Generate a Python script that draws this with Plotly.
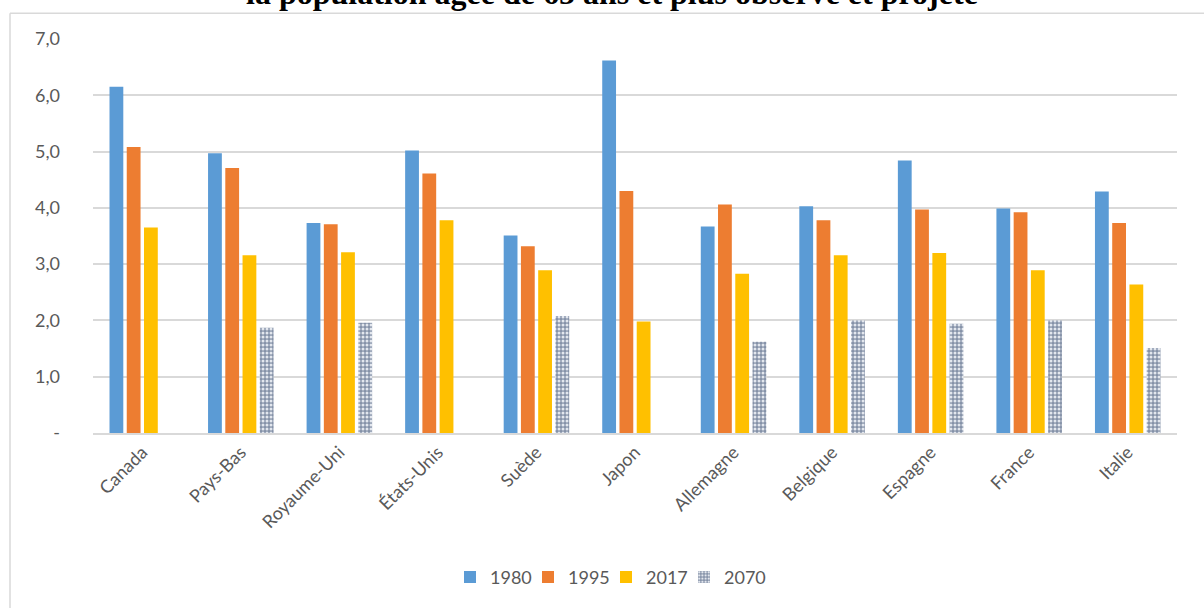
import plotly.graph_objects as go

pays = ["Canada", "Pays-Bas", "Royaume-Uni", "États-Unis", "Suède", "Japon",
        "Allemagne", "Belgique", "Espagne", "France", "Italie"]
v1980 = [6.15, 4.97, 3.73, 5.02, 3.51, 6.62, 3.67, 4.03, 4.84, 3.99, 4.29]
v1995 = [5.08, 4.71, 3.71, 4.61, 3.32, 4.30, 4.06, 3.78, 3.97, 3.92, 3.73]
v2017 = [3.65, 3.16, 3.21, 3.78, 2.89, 1.98, 2.83, 3.16, 3.20, 2.89, 2.64]
v2070 = [None, 1.87, 1.96, None, 2.08, None, 1.62, 2.00, 1.94, 2.00, 1.51]
yticks = [0, 1, 2, 3, 4, 5, 6, 7]
yticktext = ["-", "1,0", "2,0", "3,0", "4,0", "5,0", "6,0", "7,0"]
title = "la population âgée de 65 ans et plus observé et projeté"

fig = go.Figure()
fig.add_bar(x=pays, y=v1980, name="1980", marker=dict(color="#5B9BD5", line=dict(width=0)))
fig.add_bar(x=pays, y=v1995, name="1995", marker=dict(color="#ED7D31", line=dict(width=0)))
fig.add_bar(x=pays, y=v2017, name="2017", marker=dict(color="#FFC000", line=dict(width=0)))
fig.add_bar(x=pays, y=v2070, name="2070",
            marker=dict(color="#8E9AAE", line=dict(width=0),
                        pattern=dict(shape=".", fgcolor="#E3E7EE", bgcolor="#8592A8",
                                     size=4, solidity=0.45, fillmode="replace")))
# invisible spacer entry so the last legend label is not clipped
fig.add_scatter(x=[None], y=[None], name=" ", mode="markers",
                marker=dict(color="rgba(0,0,0,0)", size=1), hoverinfo="skip")

L, R, T, B = 93, 27, 39, 173
W, H = 1204, 608
pw, ph = W - L - R, H - T - B

def px(xp):
    return (xp - L) / pw

def py(yp):
    return (H - B - yp) / ph

fig.update_layout(
    width=W, height=H,
    margin=dict(l=L, r=R, t=T, b=B, pad=0),
    paper_bgcolor="white", plot_bgcolor="white",
    barmode="group", bargap=0.3, bargroupgap=0.2,
    font=dict(family="Lato, Open Sans, sans-serif", color="#595959"),
    showlegend=True,
    legend=dict(orientation="h", x=px(450), xanchor="left", y=py(580), yanchor="middle",
                font=dict(size=18, color="#595959"), traceorder="normal",
                itemwidth=30, entrywidthmode="pixels", entrywidth=33),
    xaxis=dict(tickangle=-45, tickfont=dict(size=18, color="#595959"),
               showgrid=False, showline=True, linecolor="#D9D9D9", linewidth=1.5,
               ticks="", ticklen=0),
    yaxis=dict(range=[0, 7], tickvals=yticks, ticktext=yticktext,
               tickfont=dict(size=18, color="#595959"),
               showgrid=True, gridcolor="#D9D9D9", gridwidth=1.5,
               zeroline=False, showline=False, ticks="", ticklabelstandoff=32),
    shapes=[
        dict(type="line", xref="paper", yref="paper", x0=px(10), x1=px(10),
             y0=py(13), y1=py(620), line=dict(color="#D9D9D9", width=1.5)),
        dict(type="line", xref="paper", yref="paper", x0=px(10), x1=px(1210),
             y0=py(13), y1=py(13), line=dict(color="#D9D9D9", width=1.5)),
    ],
    annotations=[
        dict(text="<b>" + title + "</b>", xref="paper", yref="paper",
             x=px(612), y=py(13), xanchor="center", yanchor="bottom", showarrow=False,
             font=dict(family="Liberation Serif, Times New Roman, serif", size=32, color="black"))
    ],
)

fig.write_html("out.html")
